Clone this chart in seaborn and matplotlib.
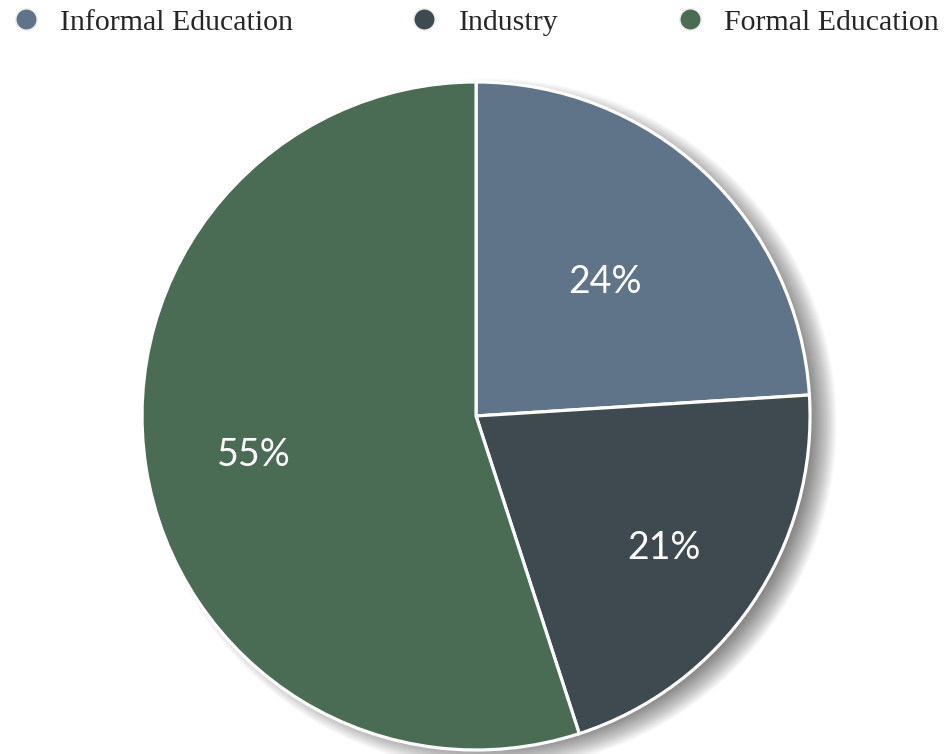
import matplotlib
matplotlib.use("Agg")
import matplotlib.pyplot as plt
import seaborn as sns
import numpy as np
from matplotlib.lines import Line2D
from matplotlib.patches import Circle

categories = ["Informal Education", "Industry", "Formal Education"]
values = [24, 21, 55]
colors = ["#5f7389", "#3e4a4f", "#4a6b54"]
label_dist = [0.565, 0.68, 0.675]

sns.set_theme(style="white")
plt.rcParams['font.family'] = ['DejaVu Sans']

fig = plt.figure(figsize=(9.45, 7.54), dpi=100)
fig.patch.set_facecolor("white")
ax = fig.add_axes([0.1503, 0.0053, 0.7069, 0.886])
ax.set_facecolor("none")

# soft shadow
n = 30
for i in range(n):
    r = 0.95 + 0.085 * (1 - i / n)
    ax.add_patch(Circle((0.045, -0.025), r, facecolor="black", edgecolor="none",
                        alpha=0.02, zorder=0, clip_on=False))

wedges, _ = ax.pie(values, colors=colors, startangle=90, counterclock=False,
                   radius=1.0,
                   wedgeprops=dict(edgecolor="white", linewidth=2.3, zorder=2))
for w in wedges:
    w.set_zorder(2)
    w.set_clip_on(False)

# percentage labels
total = sum(values)
start = 90.0
for v, d in zip(values, label_dist):
    span = 360.0 * v / total
    mid = np.deg2rad(start - span / 2)
    ax.text(d * np.cos(mid), d * np.sin(mid) - 0.012, f"{v}%", ha="center", va="center",
            color="white", fontsize=27, family=["Lato", "DejaVu Sans"], zorder=5)
    start -= span

ax.set_xlim(-1, 1)
ax.set_ylim(-1, 1)
ax.set_aspect("equal")
ax.axis("off")

handles = [Line2D([], [], marker="o", linestyle="", markersize=15.5,
                  markerfacecolor=c, markeredgecolor="#eeeeee", markeredgewidth=1.2)
           for c in colors]
leg = fig.legend(handles, categories, loc="upper left", bbox_to_anchor=(-0.033, 1.024),
                 ncol=3, frameon=False, handletextpad=0.15, columnspacing=3.4,
                 prop=dict(family=["Liberation Serif"], size=21.5))

fig.savefig("out.png", dpi=100, facecolor="white")
